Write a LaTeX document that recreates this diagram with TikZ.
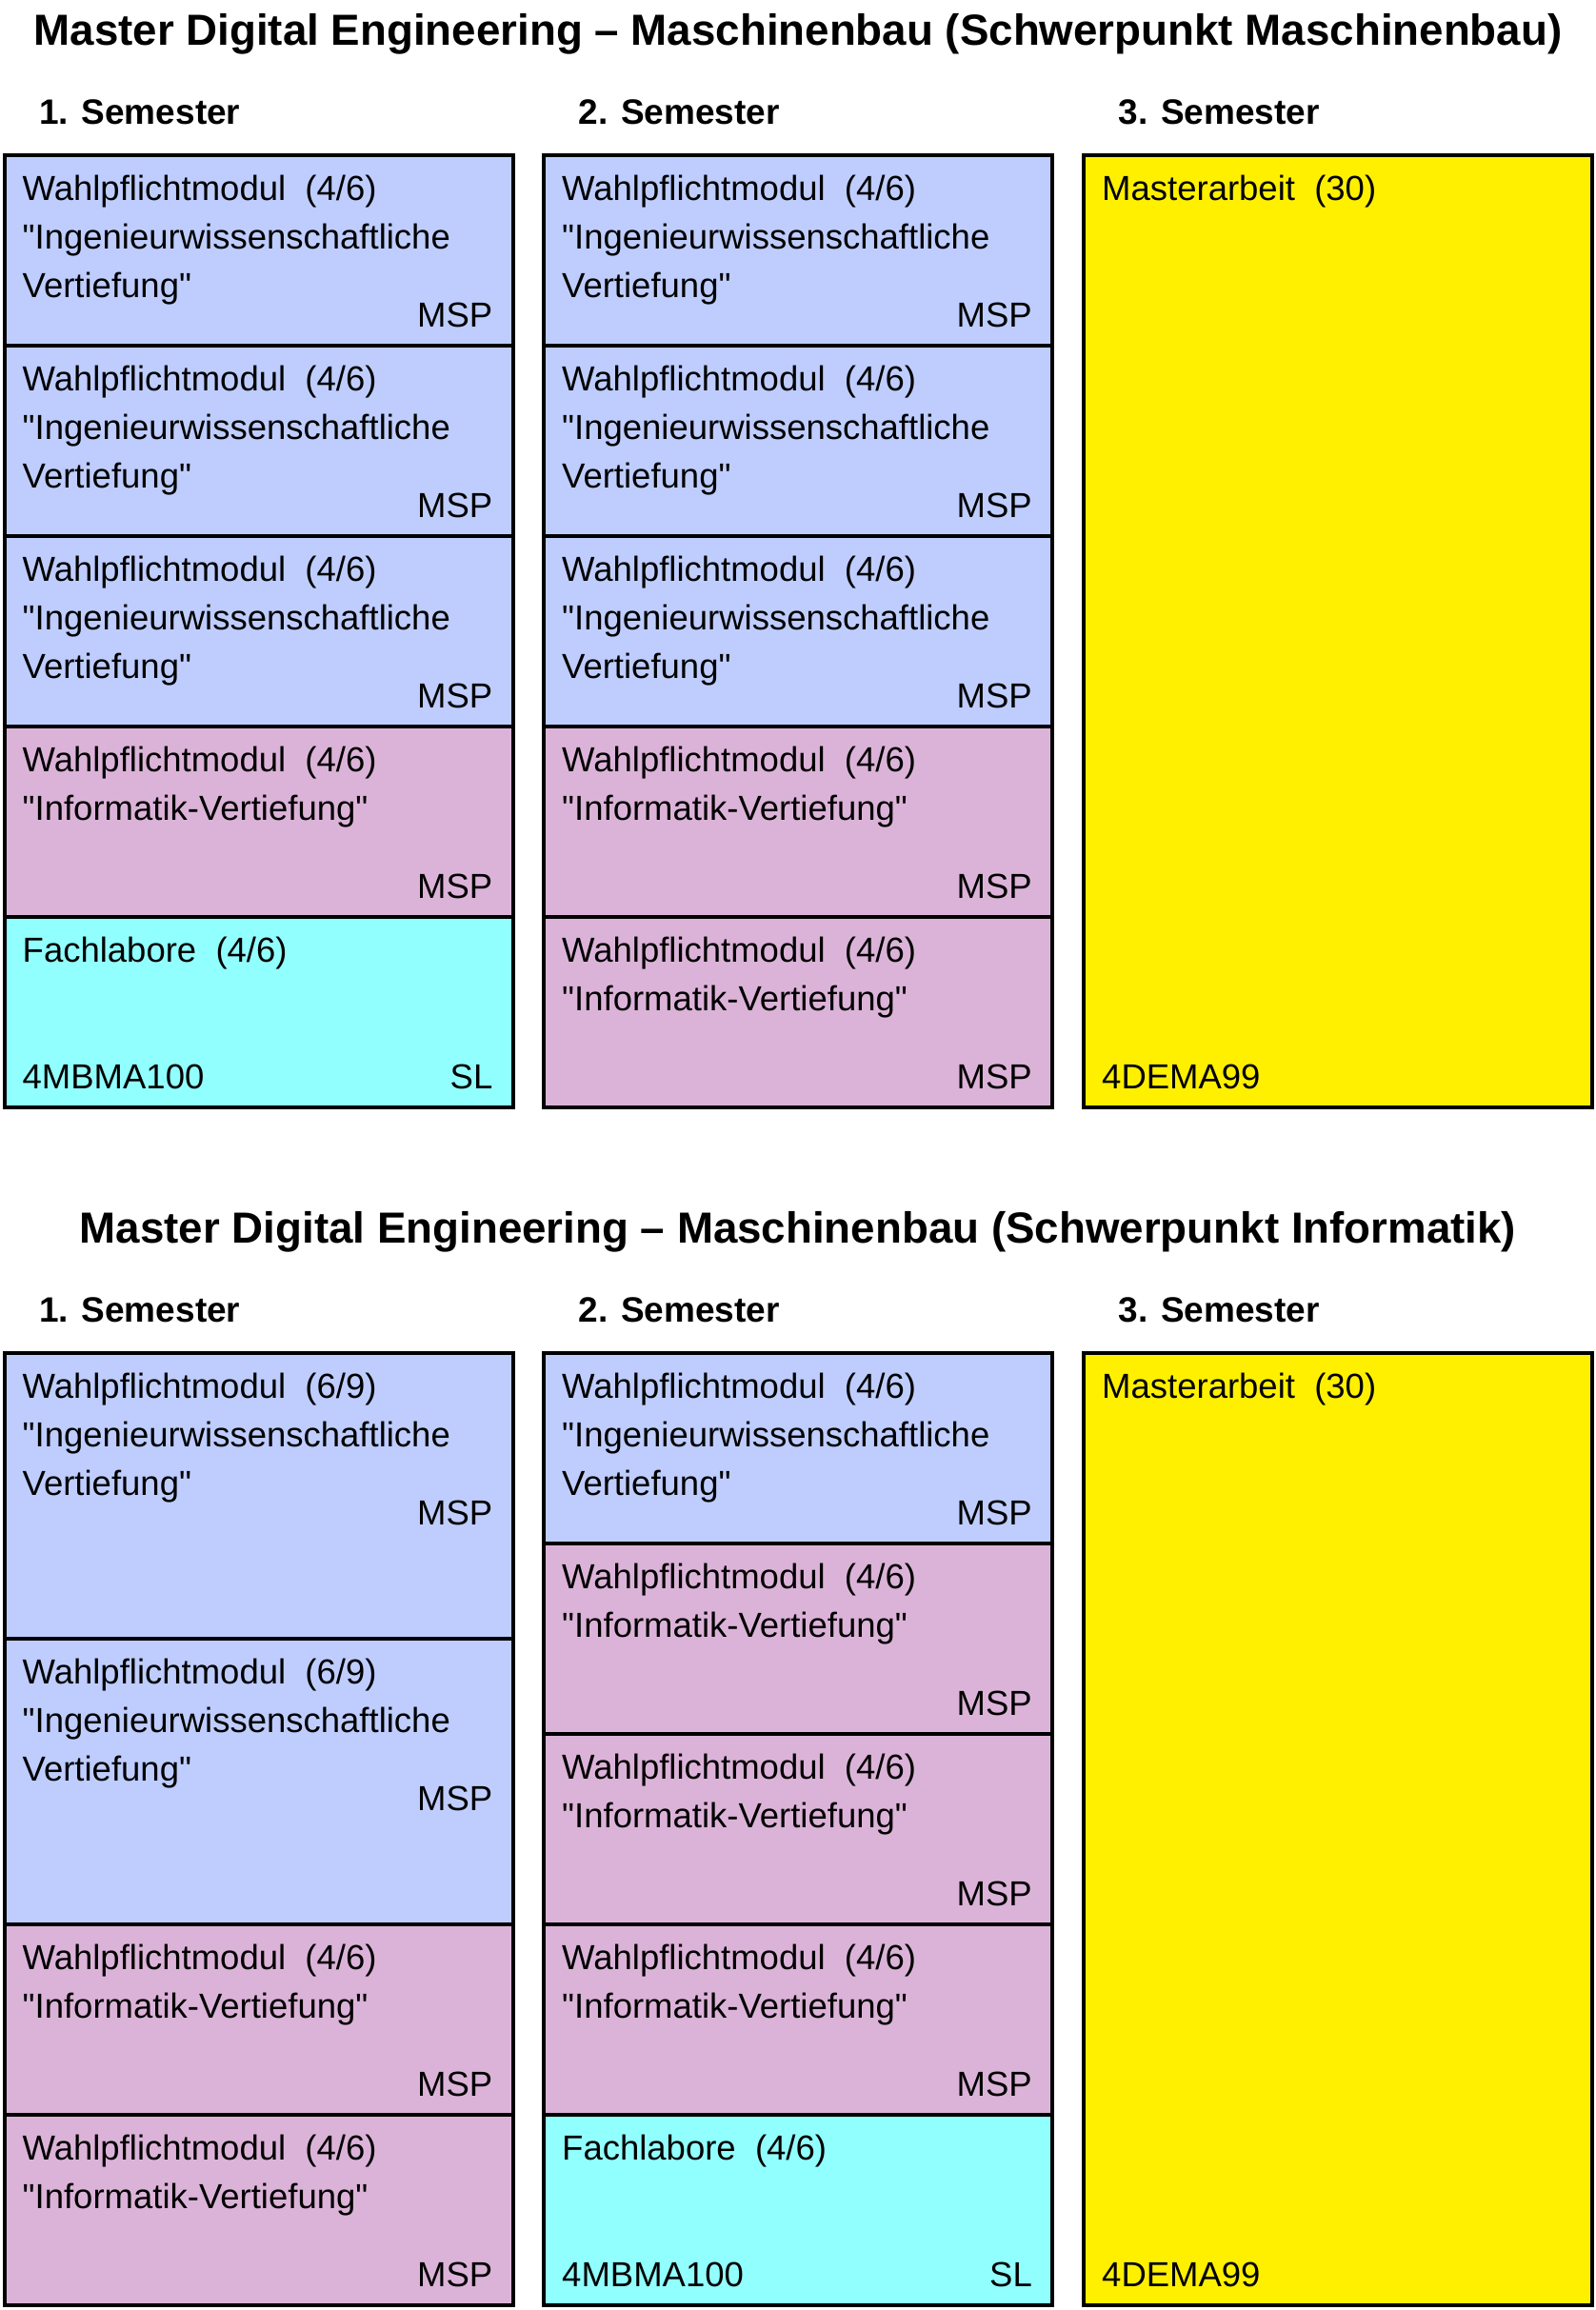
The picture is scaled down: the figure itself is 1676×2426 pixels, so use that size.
\documentclass[tikz,border=0pt]{standalone}
\usepackage{fontspec}
\setmainfont{Liberation Sans}[Ligatures=TeXOff]
\usetikzlibrary{calc}
\definecolor{cblue}{HTML}{BECDFE}
\definecolor{cpink}{HTML}{DCB3D8}
\definecolor{ccyan}{HTML}{92FFFF}
\definecolor{cyell}{HTML}{FFF000}
\tikzset{
  modbox/.style={draw=black, line width=4pt, minimum width=534pt, inner sep=0pt, outer sep=0pt, anchor=north west},
  txt/.style={inner sep=0pt, font=\fontsize{36.5}{40}\selectfont},
  ttl/.style={inner sep=0pt, font=\fontsize{45.7}{50}\selectfont\bfseries, anchor=base},
  sem/.style={inner sep=0pt, font=\fontsize{37}{40}\selectfont\bfseries, anchor=base west},
}
\newcommand{\mkbox}[5]{\node[modbox, fill=#5, minimum height=#4pt] (#1) at (#2,#3) {};}
\newcommand{\mkline}[3]{\node[txt, anchor=base west] (#1-l#2) at ($(#1.north west)+(19,{47+51*(#2-1)})$) {#3};}
\newcommand{\mkleft}[3]{\node[txt, anchor=base west] (#1-bl) at ($(#1.north west)+(19,#2)$) {#3};}
\newcommand{\mkright}[3]{\node[txt, anchor=base east] (#1-br) at ($(#1.north east)+(-21,#2)$) {#3};}
\newcommand{\ingmod}[2]{\mkline{#1}{1}{Wahlpflichtmodul~~(#2)}\mkline{#1}{2}{"Ingenieurwissenschaftliche}\mkline{#1}{3}{Vertiefung"}\mkright{#1}{180}{MSP}}
\newcommand{\infmod}[1]{\mkline{#1}{1}{Wahlpflichtmodul~~(4/6)}\mkline{#1}{2}{"Informatik-Vertiefung"}\mkright{#1}{180}{MSP}}
\newcommand{\labmod}[1]{\mkline{#1}{1}{Fachlabore~~(4/6)}\mkleft{#1}{180}{4MBMA100}\mkright{#1}{180}{SL}}
\newcommand{\thesis}[1]{\mkline{#1}{1}{Masterarbeit~~(30)}\mkleft{#1}{980}{4DEMA99}}
\begin{document}
\begin{tikzpicture}[x=1pt,y=-1pt]
\useasboundingbox (0,0) rectangle (1676,2426);
% ---------- first plan ----------
\node[ttl] (titleA) at (838,47) {Master Digital Engineering – Maschinenbau (Schwerpunkt Maschinenbau)};
\node[sem] (semA1) at (41,130) {1. Semester};
\node[sem] (semA2) at (607.5,130) {2. Semester};
\node[sem] (semA3) at (1174.5,130) {3. Semester};
\mkbox{a11}{4.5}{163}{200}{cblue}\ingmod{a11}{4/6}
\mkbox{a12}{4.5}{363}{200}{cblue}\ingmod{a12}{4/6}
\mkbox{a13}{4.5}{563}{200}{cblue}\ingmod{a13}{4/6}
\mkbox{a14}{4.5}{763}{200}{cpink}\infmod{a14}
\mkbox{a15}{4.5}{963}{200}{ccyan}\labmod{a15}
\mkbox{a21}{571}{163}{200}{cblue}\ingmod{a21}{4/6}
\mkbox{a22}{571}{363}{200}{cblue}\ingmod{a22}{4/6}
\mkbox{a23}{571}{563}{200}{cblue}\ingmod{a23}{4/6}
\mkbox{a24}{571}{763}{200}{cpink}\infmod{a24}
\mkbox{a25}{571}{963}{200}{cpink}\infmod{a25}
\mkbox{a31}{1138}{163}{1000}{cyell}\thesis{a31}
% ---------- second plan ----------
\node[ttl] (titleB) at (838,1305) {Master Digital Engineering – Maschinenbau (Schwerpunkt Informatik)};
\node[sem] (semB1) at (41,1388) {1. Semester};
\node[sem] (semB2) at (607.5,1388) {2. Semester};
\node[sem] (semB3) at (1174.5,1388) {3. Semester};
\mkbox{b11}{4.5}{1421}{300}{cblue}\ingmod{b11}{6/9}
\mkbox{b12}{4.5}{1721}{300}{cblue}\ingmod{b12}{6/9}
\mkbox{b13}{4.5}{2021}{200}{cpink}\infmod{b13}
\mkbox{b14}{4.5}{2221}{200}{cpink}\infmod{b14}
\mkbox{b21}{571}{1421}{200}{cblue}\ingmod{b21}{4/6}
\mkbox{b22}{571}{1621}{200}{cpink}\infmod{b22}
\mkbox{b23}{571}{1821}{200}{cpink}\infmod{b23}
\mkbox{b24}{571}{2021}{200}{cpink}\infmod{b24}
\mkbox{b25}{571}{2221}{200}{ccyan}\labmod{b25}
\mkbox{b31}{1138}{1421}{1000}{cyell}\thesis{b31}
\end{tikzpicture}
\end{document}
